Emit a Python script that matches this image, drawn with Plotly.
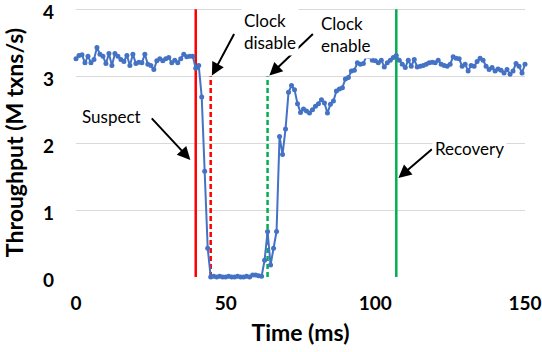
import plotly.graph_objects as go

# ---------------- data ----------------
time_ms = list(range(0, 151))
throughput = [
    3.26, 3.31, 3.32, 3.20, 3.30, 3.20, 3.25, 3.43, 3.33, 3.30,
    3.19, 3.34, 3.16, 3.34, 3.30, 3.25, 3.22, 3.31, 3.16, 3.33,
    3.19, 3.21, 3.20, 3.33, 3.18, 3.16, 3.10, 3.23, 3.26, 3.23,
    3.26, 3.28, 3.20, 3.24, 3.20, 3.26, 3.33, 3.29, 3.30, 3.30,
    3.12, 3.16, 2.69, 1.58, 0.43, 0.00,
    0.01, 0.00, 0.01, 0.00, 0.00, 0.01, 0.00, 0.00, 0.01, 0.00,
    0.00, 0.01, 0.00, 0.03, 0.03, 0.02, 0.01,
    0.25, 0.68, 0.18, 0.43, 0.68, 2.10, 1.83, 2.21, 2.76, 2.86, 2.80, 2.59,
    2.46, 2.51, 2.48, 2.45, 2.50, 2.55, 2.59, 2.65, 2.60, 2.45,
    2.58, 2.63, 2.78, 2.81, 2.83, 2.96, 2.98, 3.08, 3.09, 3.20,
    3.18, 3.19, 3.30, 3.29, 3.24, 3.23, 3.20, 3.24, 3.14, 3.20,
    3.24, 3.28, 3.31, 3.24, 3.18, 3.13,
    3.24, 3.15, 3.25, 3.14, 3.15, 3.16, 3.18, 3.20, 3.21, 3.20,
    3.24, 3.18, 3.16, 3.15, 3.18, 3.29, 3.27, 3.26, 3.15, 3.18,
    3.08, 3.16, 3.15, 3.22, 3.27, 3.24, 3.15, 3.10, 3.13, 3.08,
    3.11, 3.09, 3.05, 3.10, 3.03, 3.08, 3.19, 3.15, 3.05, 3.18,
]

event_times = [40, 45, 64, 107]
event_tops = [4, 3, 3, 4]

x_ticks = [0, 50, 100, 150]
y_ticks = [0, 1, 2, 3, 4]

label_texts = ["Suspect", "Clock<br>disable", "Clock<br>enable", "Recovery"]
label_x = [12.0, 55.0, 81.0, 131.5]
label_y = [2.40, 3.67, 3.63, 1.92]
arrow_head_x = [38.2, 45.4, 64.6, 107.7]
arrow_head_y = [1.75, 3.01, 3.01, 1.48]

# ---------------- styles ----------------
event_colors = ["#FF0000", "#FF0000", "#00B050", "#00B050"]
event_dash = ["solid", "5px,3px", "5px,3px", "solid"]
arrow_ax = [-40, 23, 45, 35]
arrow_ay = [-43, -43, -43, -30]
label_anchor = ["center", "left", "left", "center"]

FONT = "Lato, 'Open Sans', sans-serif"

fig = go.Figure()

for t, top, c, d in zip(event_times, event_tops, event_colors, event_dash):
    fig.add_trace(go.Scatter(
        x=[t, t], y=[0, top], mode="lines",
        line=dict(color=c, width=2.5, dash=d),
        hoverinfo="skip", showlegend=False, cliponaxis=False,
    ))

fig.add_trace(go.Scatter(
    x=time_ms, y=throughput, mode="lines+markers",
    line=dict(color="#4472C4", width=2),
    marker=dict(color="#4472C4", size=5),
    showlegend=False, cliponaxis=False,
))

annotations = []
for hx, hy, ax, ay in zip(arrow_head_x, arrow_head_y, arrow_ax, arrow_ay):
    annotations.append(dict(
        x=hx, y=hy, xref="x", yref="y", ax=ax, ay=ay,
        axref="pixel", ayref="pixel", text="", showarrow=True,
        arrowhead=2, arrowsize=1.3, arrowwidth=2, arrowcolor="black",
        standoff=0, startstandoff=0,
    ))
for txt, lx, ly, anc in zip(label_texts, label_x, label_y, label_anchor):
    annotations.append(dict(
        x=lx, y=ly, xref="x", yref="y", text=txt, showarrow=False,
        xanchor=anc, yanchor="middle", align="left",
        font=dict(family=FONT, size=17, color="black"),
        bgcolor="white", borderpad=2,
    ))

fig.update_layout(
    width=542, height=352,
    margin=dict(l=76, r=17, t=8, b=75),
    paper_bgcolor="white", plot_bgcolor="white",
    font=dict(family=FONT, color="black"),
    annotations=annotations,
    xaxis=dict(
        range=[0, 150], tickvals=x_ticks, showgrid=False, zeroline=False,
        showline=False, ticks="", ticklabelstandoff=13, automargin=False,
        ticklabeloverflow="allow",
        tickfont=dict(family=FONT, size=19, color="black", weight="bold"),
        title=dict(text="<b>Time (ms)</b>", standoff=11,
                   font=dict(family=FONT, size=23, color="black")),
    ),
    yaxis=dict(
        range=[0, 4.02], tickvals=y_ticks, showgrid=True, gridcolor="#D9D9D9",
        gridwidth=1, zeroline=False, showline=False, ticks="",
        ticklabelstandoff=21, ticklabelshift=3, automargin=False,
        ticklabeloverflow="allow",
        tickfont=dict(family=FONT, size=19, color="black", weight="bold"),
        title=dict(text="<b>Throughput (M txns/s)</b>", standoff=13,
                   font=dict(family=FONT, size=23, color="black")),
    ),
)

fig.write_html(
    "out.html",
    config={"displayModeBar": False},
    post_script="document.body.style.margin='0';document.body.style.overflow='hidden';",
)
